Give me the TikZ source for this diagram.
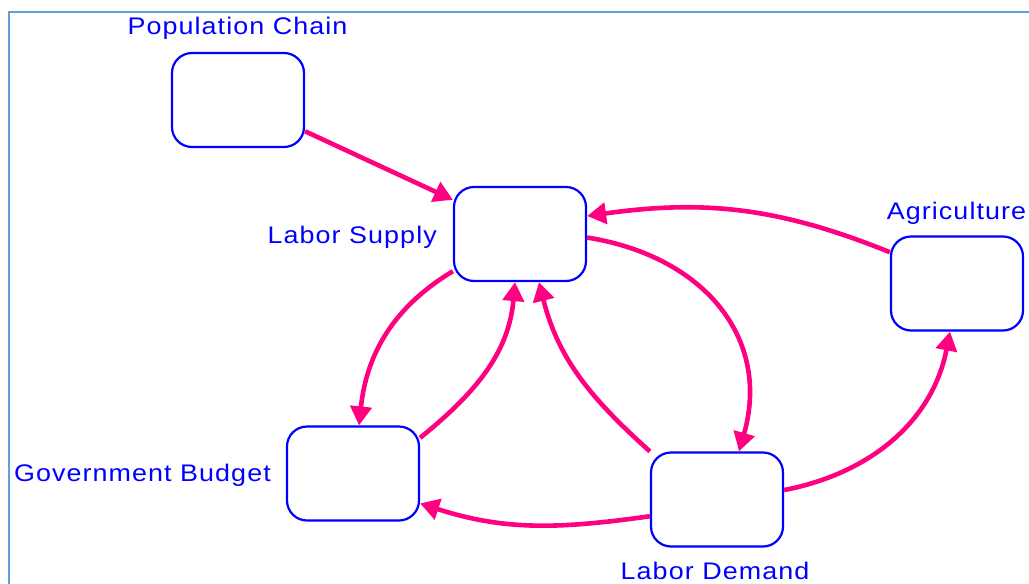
\documentclass[tikz,border=0pt]{standalone}
\usepackage{fontspec}
\setmainfont{Liberation Sans}
\newfontfamily\lblfont[FakeStretch=1.12,LetterSpace=4.5]{Liberation Sans}
\usetikzlibrary{arrows.meta}
\definecolor{boxblue}{RGB}{0,0,255}
\definecolor{arrpink}{RGB}{255,0,128}
\definecolor{framecol}{RGB}{100,160,215}
\begin{document}
\begin{tikzpicture}[x=1pt,y=1pt,
  sbox/.style={draw=boxblue, line width=2.2pt, rounded corners=20pt, minimum width=132pt, minimum height=94pt, inner sep=0pt, fill=white},
  lbl/.style={text=boxblue, font=\lblfont\fontsize{24}{28}\selectfont, inner sep=0pt},
  link/.style={draw=arrpink, line width=4.6pt, -{Triangle[length=19pt,width=21pt]}}
]
\useasboundingbox (0,0) rectangle (1029,-584);
\draw[framecol, line width=2pt] (8.5,-584) -- (8.5,-11.5) -- (1029,-11.5);

\node[sbox] (pc) at (238,-100) {};
\node[sbox] (ls) at (520,-234) {};
\node[sbox] (ag) at (957,-283.5) {};
\node[sbox] (gb) at (353,-473.5) {};
\node[sbox] (ld) at (717,-499.5) {};

\node[lbl, anchor=base] (pcl) at (237.5,-34) {Population Chain};
\node[lbl, anchor=base east] (lsl) at (437,-243) {Labor Supply};
\node[lbl, anchor=base] (agl) at (956.5,-219) {Agriculture};
\node[lbl, anchor=base east] (gbl) at (271,-481) {Government Budget};
\node[lbl, anchor=base] (ldl) at (715,-579) {Labor Demand};

\draw[link] (pc.-25.5) -- (ls.153);
\draw[link] (ag.155.5) to[out=158,in=8] (ls.15);
\draw[link] (ls.-3) to[out=-9,in=74,looseness=1.15] ([xshift=22pt]ld.north);
\draw[link] (ls.209.6) to[out=211,in=84] ([xshift=6pt]gb.north);
\draw[link] (gb.28.6) to[out=39,in=265] ([xshift=-5pt]ls.south);
\draw[link] (ld.north west) to[out=138,in=284] ([xshift=19pt]ls.south);
\draw[link] (ld.194.6) to[out=188,in=-18] (gb.-24.5);
\draw[link] (ld.8) to[out=11,in=259] ([xshift=-7pt]ag.south);
\end{tikzpicture}
\end{document}
